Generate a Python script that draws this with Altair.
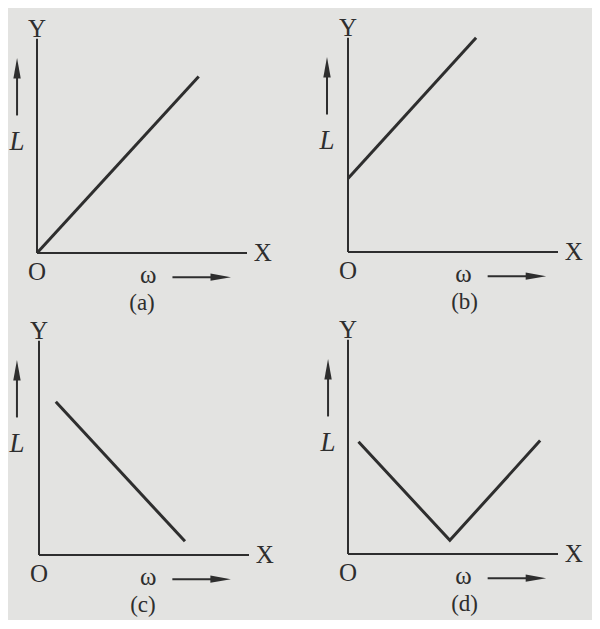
import altair as alt
import pandas as pd

# ---- data (in plot units: omega along X, L along Y) ----
captions = ["(a)", "(b)", "(c)", "(d)"]
curve_a_w = [0.0, 7.7]
curve_a_L = [0.0, 8.4]
curve_b_w = [0.0, 6.1]
curve_b_L = [3.5, 10.2]
curve_c_w = [0.8, 6.95]
curve_c_L = [7.3, 0.65]
curve_d_w = [0.5, 4.85, 9.15]
curve_d_L = [5.35, 0.65, 5.4]

x_axis_len = 10.0
y_axis_len = 10.2
omega_x = [5.3, 5.5, 5.2, 5.5]
caption_x = [5.0, 5.55, 4.95, 5.55]
ylabel_x = [-0.95, -1.0, -1.05, -0.95]

# ---- layout ----
U = 21.0                      # px per unit
W, H = 292, 306
origins = [(29, 245), (48, 244), (31, 241), (48, 240)]
INK = "#2e2e2e"
SERIF = "Liberation Serif"
HEAD_R = "M-1,-0.36L1,0L-1,0.36Z"
HEAD_U = "M-0.36,1L0,-1L0.36,1Z"


def panel(i, cw, cL):
    ox, oy = origins[i]
    xs = alt.Scale(domain=[-ox / U, (W - ox) / U], nice=False, zero=False)
    ys = alt.Scale(domain=[-(H - oy) / U, oy / U], nice=False, zero=False)

    def X(f="x"):
        return alt.X(f"{f}:Q", scale=xs, axis=None)

    def Y(f="y"):
        return alt.Y(f"{f}:Q", scale=ys, axis=None)

    axes = pd.DataFrame({"x": [0, 0], "x2": [x_axis_len, 0], "y": [0, 0], "y2": [0, y_axis_len]})
    ax = alt.Chart(axes).mark_rule(color=INK, strokeWidth=2).encode(
        x=X(), x2="x2:Q", y=Y(), y2="y2:Q")

    curve = alt.Chart(pd.DataFrame({"x": cw, "y": cL, "o": list(range(len(cw)))})).mark_line(
        color=INK, strokeWidth=3, strokeJoin="miter").encode(x=X(), y=Y(), order="o:Q")

    big = pd.DataFrame({"x": [0, x_axis_len + 0.75, 0], "y": [y_axis_len + 0.45, 0, -0.9],
                        "t": ["Y", "X", "O"]})
    big_t = alt.Chart(big).mark_text(font=SERIF, fontSize=25, color=INK, baseline="middle",
                                     align="center").encode(x=X(), y=Y(), text="t:N")

    om = alt.Chart(pd.DataFrame({"x": [omega_x[i]], "y": [-1.05], "t": ["ω"]})).mark_text(
        font=SERIF, fontSize=25, color=INK, baseline="middle", align="center").encode(
        x=X(), y=Y(), text="t:N")

    Lt = alt.Chart(pd.DataFrame({"x": [ylabel_x[i]], "y": [5.3], "t": ["L"]})).mark_text(
        font=SERIF, fontSize=27, fontStyle="italic", color=INK, baseline="middle",
        align="center").encode(x=X(), y=Y(), text="t:N")

    cap = alt.Chart(pd.DataFrame({"x": [caption_x[i]], "y": [-2.38], "t": [captions[i]]})).mark_text(
        font=SERIF, fontSize=23, color=INK, baseline="middle", align="center").encode(
        x=X(), y=Y(), text="t:N")

    shafts = pd.DataFrame({"x": [omega_x[i] + 1.15, ylabel_x[i]],
                           "x2": [omega_x[i] + 3.1, ylabel_x[i]],
                           "y": [-1.15, 6.55], "y2": [-1.15, 8.5]})
    sh = alt.Chart(shafts).mark_rule(color=INK, strokeWidth=2).encode(
        x=X(), x2="x2:Q", y=Y(), y2="y2:Q")

    heads = pd.DataFrame({"x": [omega_x[i] + 3.45, ylabel_x[i]], "y": [-1.15, 8.8],
                          "s": [HEAD_R, HEAD_U]})
    hd = alt.Chart(heads).mark_point(filled=True, color=INK, size=420, opacity=1,
                                     strokeWidth=0).encode(
        x=X(), y=Y(), shape=alt.Shape("s:N", scale=None, legend=None))

    return alt.layer(ax, curve, big_t, om, Lt, cap, sh, hd).properties(width=W, height=H)


charts = [
    panel(0, curve_a_w, curve_a_L),
    panel(1, curve_b_w, curve_b_L),
    panel(2, curve_c_w, curve_c_L),
    panel(3, curve_d_w, curve_d_L),
]

chart = alt.concat(*charts, columns=2, spacing=0, bounds="flush").properties(
    padding=0, background="#e3e3e1"
).configure_view(stroke=None)

chart.save("out.html", embed_options={"renderer": "svg", "actions": False})
